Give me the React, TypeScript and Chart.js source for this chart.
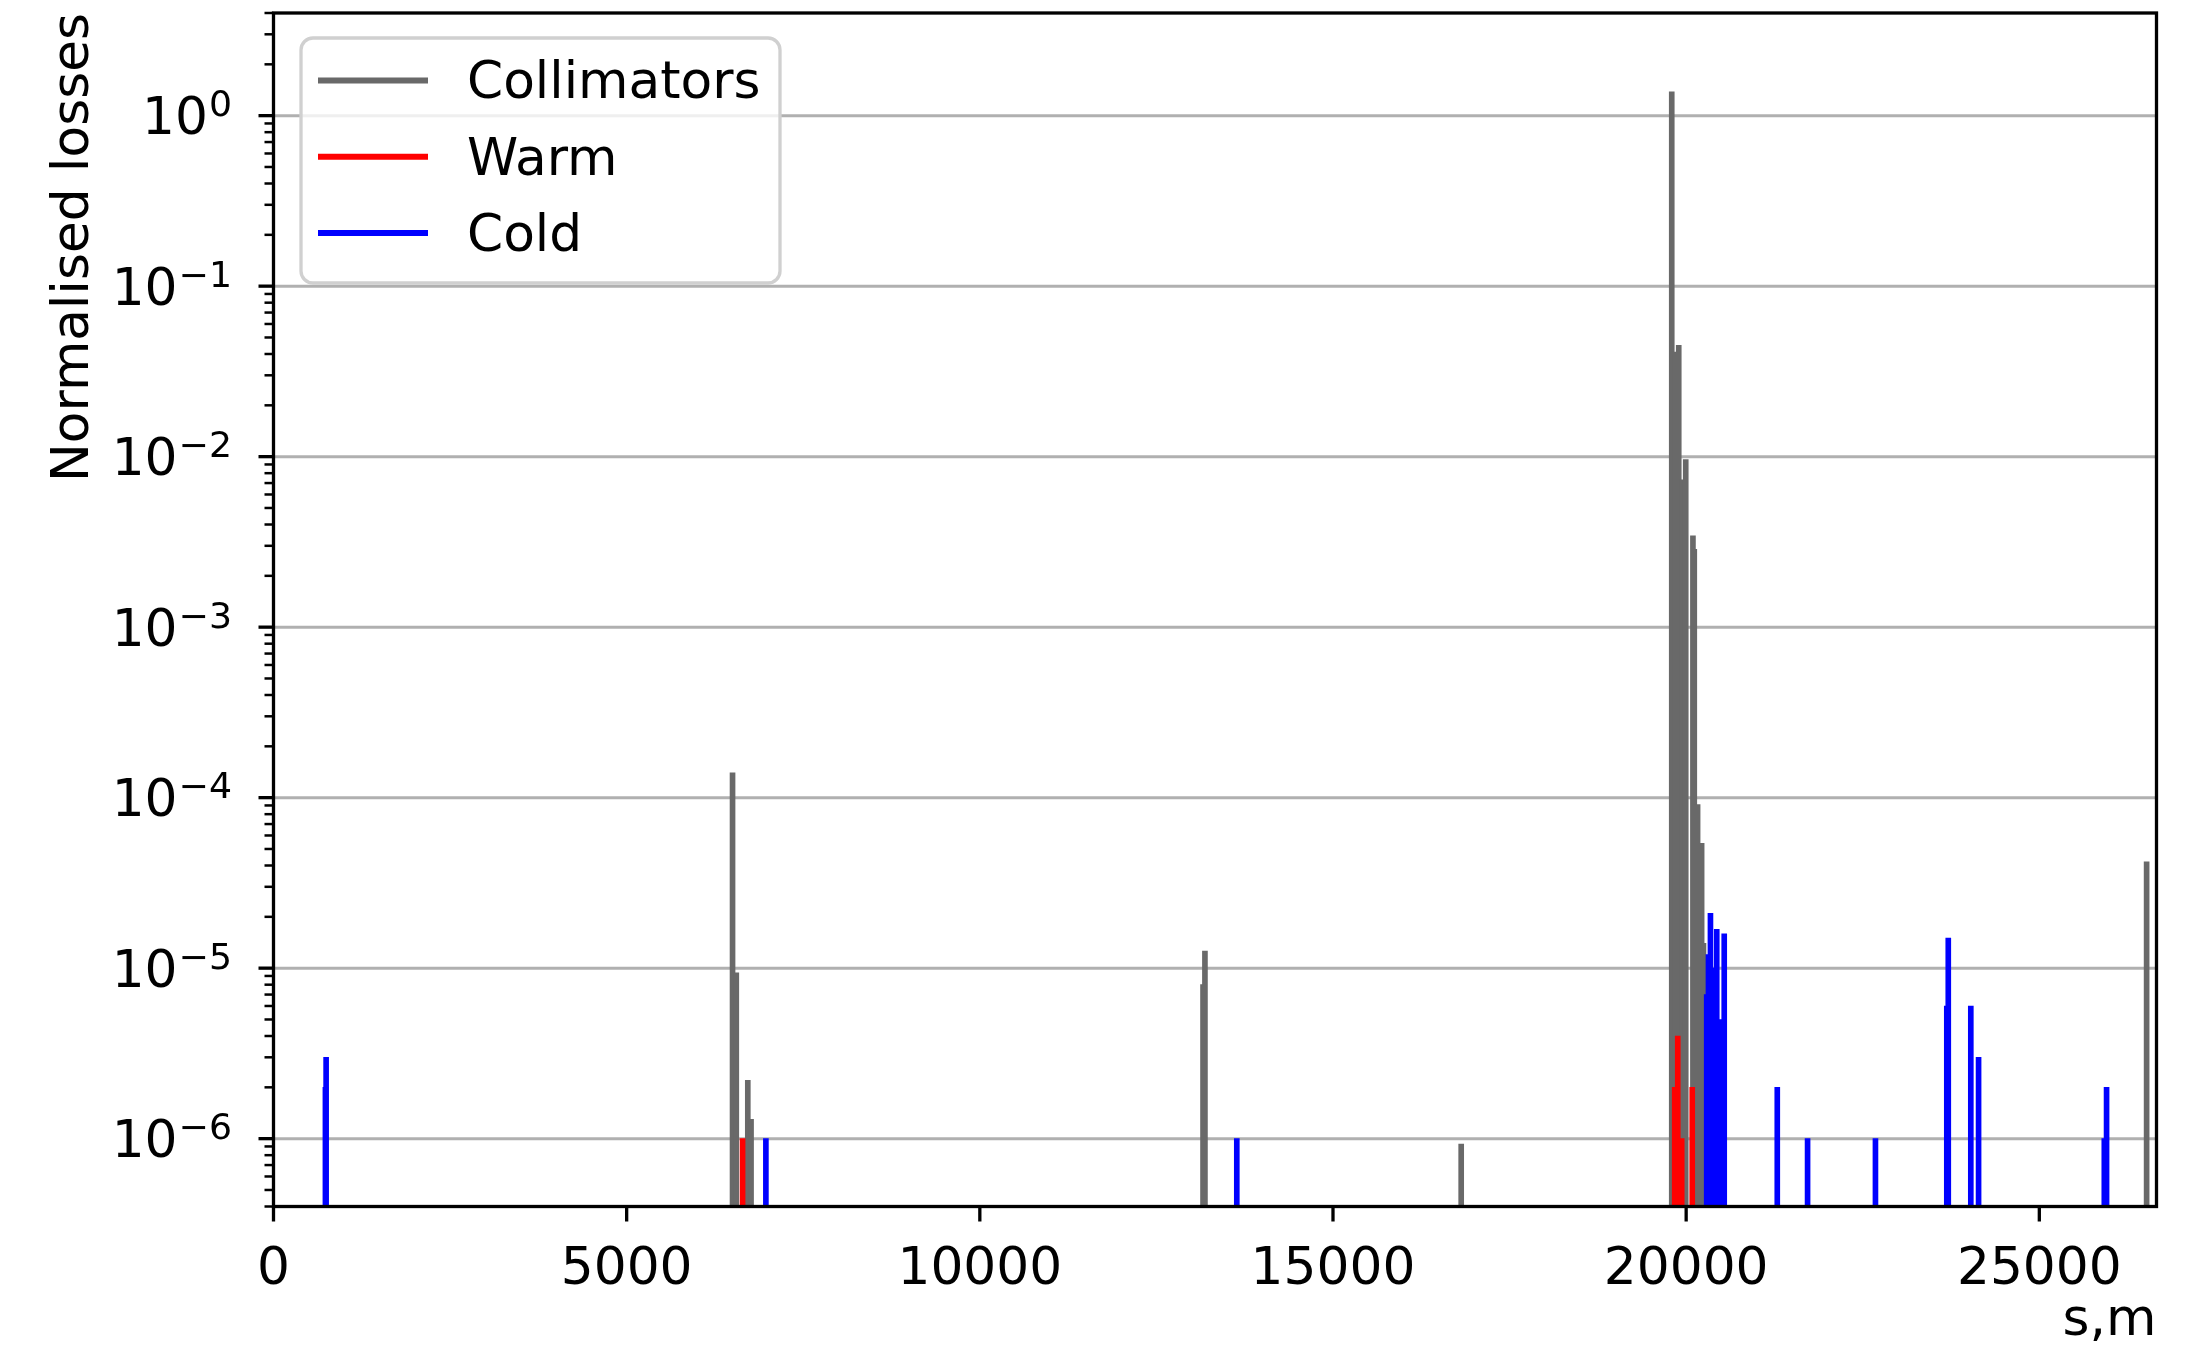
import { useEffect, useRef } from 'react';
import { Chart, registerables } from 'chart.js';

Chart.register(...registerables);

const W = 2207;
const H = 1349;

// Ring circumference, m
const S_MAX = 26659;
const Y_MIN = 4e-7;
const Y_MAX = 4;

// Loss positions (s, m) and normalised losses per element class
const collimatorS = [6499, 6552, 6715, 6761, 13160, 13187, 16815, 19796, 19852, 19895, 19944, 19994, 20096, 20115, 20162, 20219, 20245, 26519];
const collimatorLoss = [1.4e-4, 9.4e-6, 2.2e-6, 1.3e-6, 8e-6, 1.26e-5, 9.3e-7, 1.38, 0.041, 0.045, 0.0073, 0.0096, 0.00343, 0.00286, 9.1e-5, 5.4e-5, 1.4e-5, 4.2e-5];

const warmS = [6641, 19838, 19881, 19937, 20086];
const warmLoss = [1e-6, 2e-6, 4e-6, 1e-6, 2e-6];

const coldS = [735, 745, 6971, 13638, 20291, 20316, 20344, 20398, 20433, 20475, 20539, 21290, 21719, 22680, 23690, 23711, 24030, 24140, 25920, 25952];
const coldLoss = [2e-6, 3e-6, 1e-6, 1e-6, 7e-6, 1.2e-5, 2.1e-5, 1.0e-5, 1.69e-5, 5e-6, 1.59e-5, 2e-6, 1e-6, 1e-6, 6e-6, 1.5e-5, 6e-6, 3e-6, 1e-6, 2e-6];

const xTicks = [0, 5000, 10000, 15000, 20000, 25000];
const yMajorExp = [-6, -5, -4, -3, -2, -1, 0];

const seriesLabels = ['Collimators', 'Warm', 'Cold'];
const seriesColors = ['#696969', '#ff0000', '#0000ff'];

const FONT = '"DejaVu Sans", sans-serif';
const FS = 51.8;
const SPINE_W = 3.3;
const GRID_COLOR = '#b0b0b0';

const toBars = (s: number[], v: number[]) => s.map((x, i) => ({ x, y: [Y_MIN, v[i]] }));

const line = (ctx: CanvasRenderingContext2D, x1: number, y1: number, x2: number, y2: number) => {
  ctx.beginPath();
  ctx.moveTo(x1, y1);
  ctx.lineTo(x2, y2);
  ctx.stroke();
};

const axesPlugin = {
  id: 'mplAxes',
  beforeDatasetsDraw(chart: any) {
    const { ctx, chartArea: a } = chart;
    const y = chart.scales.y;
    ctx.save();
    ctx.strokeStyle = GRID_COLOR;
    ctx.lineWidth = 3;
    for (const e of yMajorExp) {
      const py = y.getPixelForValue(Math.pow(10, e));
      line(ctx, a.left, py, a.right, py);
    }
    ctx.restore();
  },
  afterDraw(chart: any) {
    const { ctx, chartArea: a } = chart;
    const x = chart.scales.x;
    const y = chart.scales.y;
    ctx.save();

    // frame
    ctx.strokeStyle = '#000';
    ctx.lineWidth = SPINE_W;
    ctx.lineCap = 'square';
    ctx.strokeRect(a.left, a.top, a.right - a.left, a.bottom - a.top);
    ctx.lineCap = 'butt';

    // x ticks and labels
    ctx.fillStyle = '#000';
    ctx.font = `${FS}px ${FONT}`;
    ctx.textAlign = 'center';
    ctx.textBaseline = 'alphabetic';
    for (const t of xTicks) {
      const px = x.getPixelForValue(t);
      ctx.lineWidth = SPINE_W;
      line(ctx, px, a.bottom, px, a.bottom + 15);
      ctx.fillText(String(t), px, a.bottom + 77);
    }

    // y ticks (major and minor) on the log axis
    for (let e = -7; e <= 0; e++) {
      for (let m = 1; m <= 9; m++) {
        const v = m * Math.pow(10, e);
        if (v < Y_MIN * 0.999 || v > Y_MAX * 1.001) continue;
        const py = y.getPixelForValue(v);
        if (m === 1) {
          ctx.lineWidth = SPINE_W;
          line(ctx, a.left, py, a.left - 15, py);
        } else {
          ctx.lineWidth = 2.5;
          line(ctx, a.left, py, a.left - 9, py);
        }
      }
    }

    // y tick labels as 10^n
    const labelRight = 232;
    for (const e of yMajorExp) {
      const py = y.getPixelForValue(Math.pow(10, e));
      const sup = String(e).replace('-', '\u2212');
      ctx.textAlign = 'right';
      ctx.font = `${FS * 0.7}px ${FONT}`;
      const supW = ctx.measureText(sup).width;
      ctx.fillText(sup, labelRight, py + 0.5);
      ctx.font = `${FS}px ${FONT}`;
      ctx.fillText('10', labelRight - supW - 1, py + 18.5);
    }

    // axis titles
    ctx.font = `${FS}px ${FONT}`;
    ctx.textAlign = 'right';
    ctx.fillText('s,m', a.right, 1335);

    ctx.save();
    ctx.translate(88, a.top);
    ctx.rotate(-Math.PI / 2);
    ctx.textAlign = 'right';
    ctx.fillText('Normalised losses', 0, 0);
    ctx.restore();

    // legend
    ctx.beginPath();
    ctx.roundRect(301, 38, 479, 245, 12);
    ctx.fillStyle = 'rgba(255,255,255,0.8)';
    ctx.fill();
    ctx.strokeStyle = '#d0d0d0';
    ctx.lineWidth = 3.3;
    ctx.stroke();
    ctx.textAlign = 'left';
    seriesLabels.forEach((lbl, i) => {
      const hy = 80.5 + i * 76.2;
      ctx.strokeStyle = seriesColors[i];
      ctx.lineWidth = 6;
      line(ctx, 318, hy, 428, hy);
      ctx.fillStyle = '#000';
      ctx.fillText(lbl, 467, hy + 17.8);
    });

    ctx.restore();
  },
};

export default function App() {
  const ref = useRef<HTMLCanvasElement>(null);

  useEffect(() => {
    const canvas = ref.current;
    if (!canvas) return;
    const series = [
      toBars(collimatorS, collimatorLoss),
      toBars(warmS, warmLoss),
      toBars(coldS, coldLoss),
    ];
    const chart = new Chart(canvas, {
      type: 'bar',
      data: {
        datasets: series.map((data, i) => ({
          label: seriesLabels[i],
          data,
          backgroundColor: seriesColors[i],
          borderWidth: 0,
          barThickness: 5,
          grouped: false,
          order: 3 - i,
        })) as any,
      },
      options: {
        responsive: false,
        animation: false,
        devicePixelRatio: 1,
        layout: { padding: { left: 273.5, right: W - 2156.5, top: 13, bottom: H - 1206.5 } },
        scales: {
          x: { type: 'linear', min: 0, max: S_MAX, offset: false, display: false },
          y: { type: 'logarithmic', min: Y_MIN, max: Y_MAX, display: false },
        },
        plugins: { legend: { display: false }, tooltip: { enabled: false } },
      } as any,
      plugins: [axesPlugin],
    });
    return () => chart.destroy();
  }, []);

  return (
    <div style={{ position: 'fixed', left: 0, top: 0, width: W, height: H, background: '#fff' }}>
      <canvas ref={ref} width={W} height={H} style={{ display: 'block' }} />
    </div>
  );
}
